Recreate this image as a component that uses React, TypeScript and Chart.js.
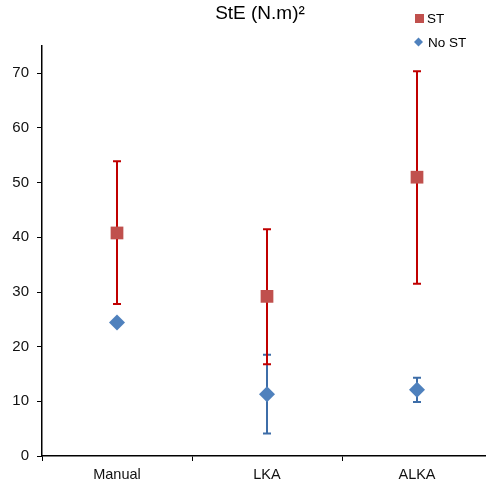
import React, { useEffect, useRef } from "react";
import { Chart, registerables } from "chart.js";

Chart.register(...registerables);

const categories = ["Manual", "LKA", "ALKA"];
const stMean = [40.8, 29.2, 51.0];
const stLow = [27.8, 16.8, 31.5];
const stHigh = [53.9, 41.5, 70.4];
const noStMean = [24.4, 11.3, 12.1];
const noStLow = [24.4, 4.1, 9.9];
const noStHigh = [24.4, 18.5, 14.3];
const titleText = "StE (N.m)²";
const legendLabels = ["ST", "No ST"];

const ST_COLOR = "#C0504D";
const ST_ERR = "#C00000";
const NOST_COLOR = "#4F81BD";
const NOST_ERR = "#3D6DA8";
const FONT = "Arial, 'Liberation Sans', sans-serif";

const errorBars = [
  { low: noStLow, high: noStHigh, color: NOST_ERR },
  { low: stLow, high: stHigh, color: ST_ERR },
];

const customPlugin = {
  id: "custom",
  beforeDatasetsDraw(chart: any) {
    const { ctx, scales } = chart;
    const xs = scales.x;
    const ys = scales.y;
    ctx.save();
    errorBars.forEach((eb) => {
      ctx.strokeStyle = eb.color;
      ctx.lineWidth = 2;
      categories.forEach((_, i) => {
        if (eb.low[i] === eb.high[i]) return;
        const x = xs.getPixelForValue(i);
        const yl = ys.getPixelForValue(eb.low[i]);
        const yh = ys.getPixelForValue(eb.high[i]);
        ctx.beginPath();
        ctx.moveTo(x, yl);
        ctx.lineTo(x, yh);
        ctx.moveTo(x - 4, yl);
        ctx.lineTo(x + 4, yl);
        ctx.moveTo(x - 4, yh);
        ctx.lineTo(x + 4, yh);
        ctx.stroke();
      });
    });
    ctx.restore();
  },
  afterDraw(chart: any) {
    const { ctx } = chart;
    ctx.save();
    ctx.fillStyle = "#000";
    ctx.font = `19px ${FONT}`;
    ctx.textAlign = "center";
    ctx.textBaseline = "middle";
    ctx.fillText(titleText, 260, 14);

    ctx.font = `13.5px ${FONT}`;
    ctx.textAlign = "left";
    // ST legend
    ctx.fillStyle = ST_COLOR;
    ctx.fillRect(415, 14, 9, 9);
    ctx.fillStyle = "#000";
    ctx.fillText(legendLabels[0], 427, 19);
    // No ST legend
    ctx.fillStyle = NOST_COLOR;
    ctx.beginPath();
    ctx.moveTo(418.5, 37.5);
    ctx.lineTo(423, 42);
    ctx.lineTo(418.5, 46.5);
    ctx.lineTo(414, 42);
    ctx.closePath();
    ctx.fill();
    ctx.fillStyle = "#000";
    ctx.fillText(legendLabels[1], 428, 43);
    ctx.restore();
  },
};

export default function App() {
  const ref = useRef<HTMLCanvasElement>(null);
  useEffect(() => {
    document.body.style.margin = "0";
    const chart = new Chart(ref.current!, {
      type: "line",
      data: {
        labels: categories,
        datasets: [
          {
            label: legendLabels[1],
            data: noStMean,
            showLine: false,
            pointStyle: "rectRot",
            pointRadius: 8,
            backgroundColor: NOST_COLOR,
            borderColor: NOST_COLOR,
            borderWidth: 0,
          },
          {
            label: legendLabels[0],
            data: stMean,
            showLine: false,
            pointStyle: "rect",
            pointRadius: 9,
            backgroundColor: ST_COLOR,
            borderColor: ST_COLOR,
            borderWidth: 0,
          },
        ],
      },
      options: {
        responsive: false,
        animation: false,
        devicePixelRatio: 1,
        layout: { padding: { top: 46, right: 0, left: 0, bottom: 0 } },
        plugins: {
          legend: { display: false },
          title: { display: false },
          tooltip: { enabled: false },
        },
        scales: {
          x: {
            type: "category",
            offset: true,
            grid: {
              offset: true,
              drawOnChartArea: false,
              drawTicks: true,
              tickLength: 5,
              color: "#000",
              lineWidth: 1,
            },
            border: { color: "#000", width: 1.5 },
            ticks: { color: "#111", font: { size: 14.5, family: FONT }, padding: 5 },
            afterFit: (s: any) => {
              s.height = 28;
            },
          },
          y: {
            min: 0,
            max: 75,
            grid: {
              drawOnChartArea: false,
              drawTicks: true,
              tickLength: 5,
              color: "#000",
              lineWidth: 1,
            },
            border: { color: "#000", width: 1.5 },
            ticks: {
              stepSize: 10,
              color: "#111",
              font: { size: 15, family: FONT },
              padding: 8,
            },
            afterBuildTicks: (s: any) => {
              s.ticks = s.ticks.filter((t: any) => t.value % 10 === 0);
            },
            afterFit: (s: any) => {
              s.width = 42;
            },
          },
        },
      },
      plugins: [customPlugin],
    });
    return () => chart.destroy();
  }, []);
  return (
    <div style={{ width: 486, height: 484, overflow: "hidden" }}>
      <canvas ref={ref} width={501} height={484} style={{ display: "block" }} />
    </div>
  );
}
